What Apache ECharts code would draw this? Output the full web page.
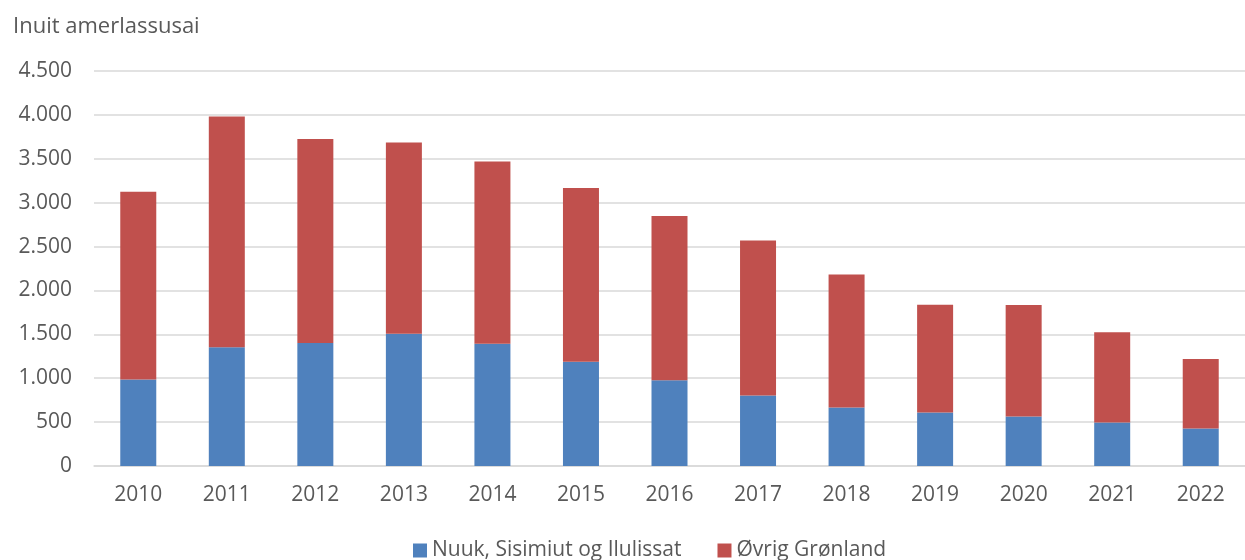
<!DOCTYPE html>
<html>
<head>
<meta charset="utf-8">
<script src="https://cdn.jsdelivr.net/npm/echarts@6/dist/echarts.min.js"></script>
<style>
  html, body { margin: 0; padding: 0; background: #fff; }
  #chart { width: 1245px; height: 560px; }
</style>
</head>
<body>
<div id="chart"></div>
<script>
// aasit
var years = ['2010', '2011', '2012', '2013', '2014', '2015', '2016', '2017', '2018', '2019', '2020', '2021', '2022'];
// Nuuk, Sisimiut og Ilulissat
var nuukSisimiutIlulissat = [985, 1352, 1402, 1508, 1394, 1189, 977, 803, 667, 610, 565, 496, 428];
// Øvrig Grønland
var ovrigGronland = [2140, 2629, 2322, 2178, 2075, 1978, 1872, 1765, 1515, 1227, 1268, 1027, 792];
var yTicks = [0, 500, 1000, 1500, 2000, 2500, 3000, 3500, 4000, 4500];

var fontFam = '"Open Sans", "Noto Sans", sans-serif';
var textColor = '#595959';

function fmt(v) {
  return String(v).replace(/\B(?=(\d{3})+(?!\d))/g, '.');
}

var chart = echarts.init(document.getElementById('chart'));
var option = {
  animation: false,
  title: {
    text: 'Inuit amerlassusai',
    left: 8,
    top: 11,
    textStyle: { fontFamily: fontFam, fontSize: 22, fontWeight: 'normal', color: textColor }
  },
  legend: {
    bottom: -6,
    left: 408,
    icon: 'rect',
    itemWidth: 14,
    itemHeight: 14,
    itemGap: 36,
    textStyle: { fontFamily: fontFam, fontSize: 21, color: textColor },
    data: ['Nuuk, Sisimiut og Ilulissat', 'Øvrig Grønland']
  },
  grid: { left: 94, top: 71, width: 1161, height: 395, containLabel: false },
  xAxis: {
    type: 'category',
    data: years,
    axisTick: { show: false },
    axisLine: { lineStyle: { color: '#d9d9d9', width: 1.5 } },
    axisLabel: { fontFamily: fontFam, fontSize: 21, color: textColor, margin: 19 }
  },
  yAxis: {
    type: 'value',
    min: yTicks[0],
    max: yTicks[yTicks.length - 1],
    interval: 500,
    axisLine: { show: false },
    axisTick: { show: false },
    splitLine: { lineStyle: { color: '#d9d9d9', width: 1.5 } },
    axisLabel: { fontFamily: fontFam, fontSize: 21, color: textColor, margin: 22, formatter: fmt }
  },
  series: [{
    name: 'Nuuk, Sisimiut og Ilulissat',
    type: 'bar',
    stack: 'total',
    barWidth: 36,
    data: nuukSisimiutIlulissat,
    itemStyle: { color: '#4f81bd' }
  }, {
    name: 'Øvrig Grønland',
    type: 'bar',
    stack: 'total',
    barWidth: 36,
    data: ovrigGronland,
    itemStyle: { color: '#c0504d' }
  }]
};
chart.setOption(option);
</script>
</body>
</html>
